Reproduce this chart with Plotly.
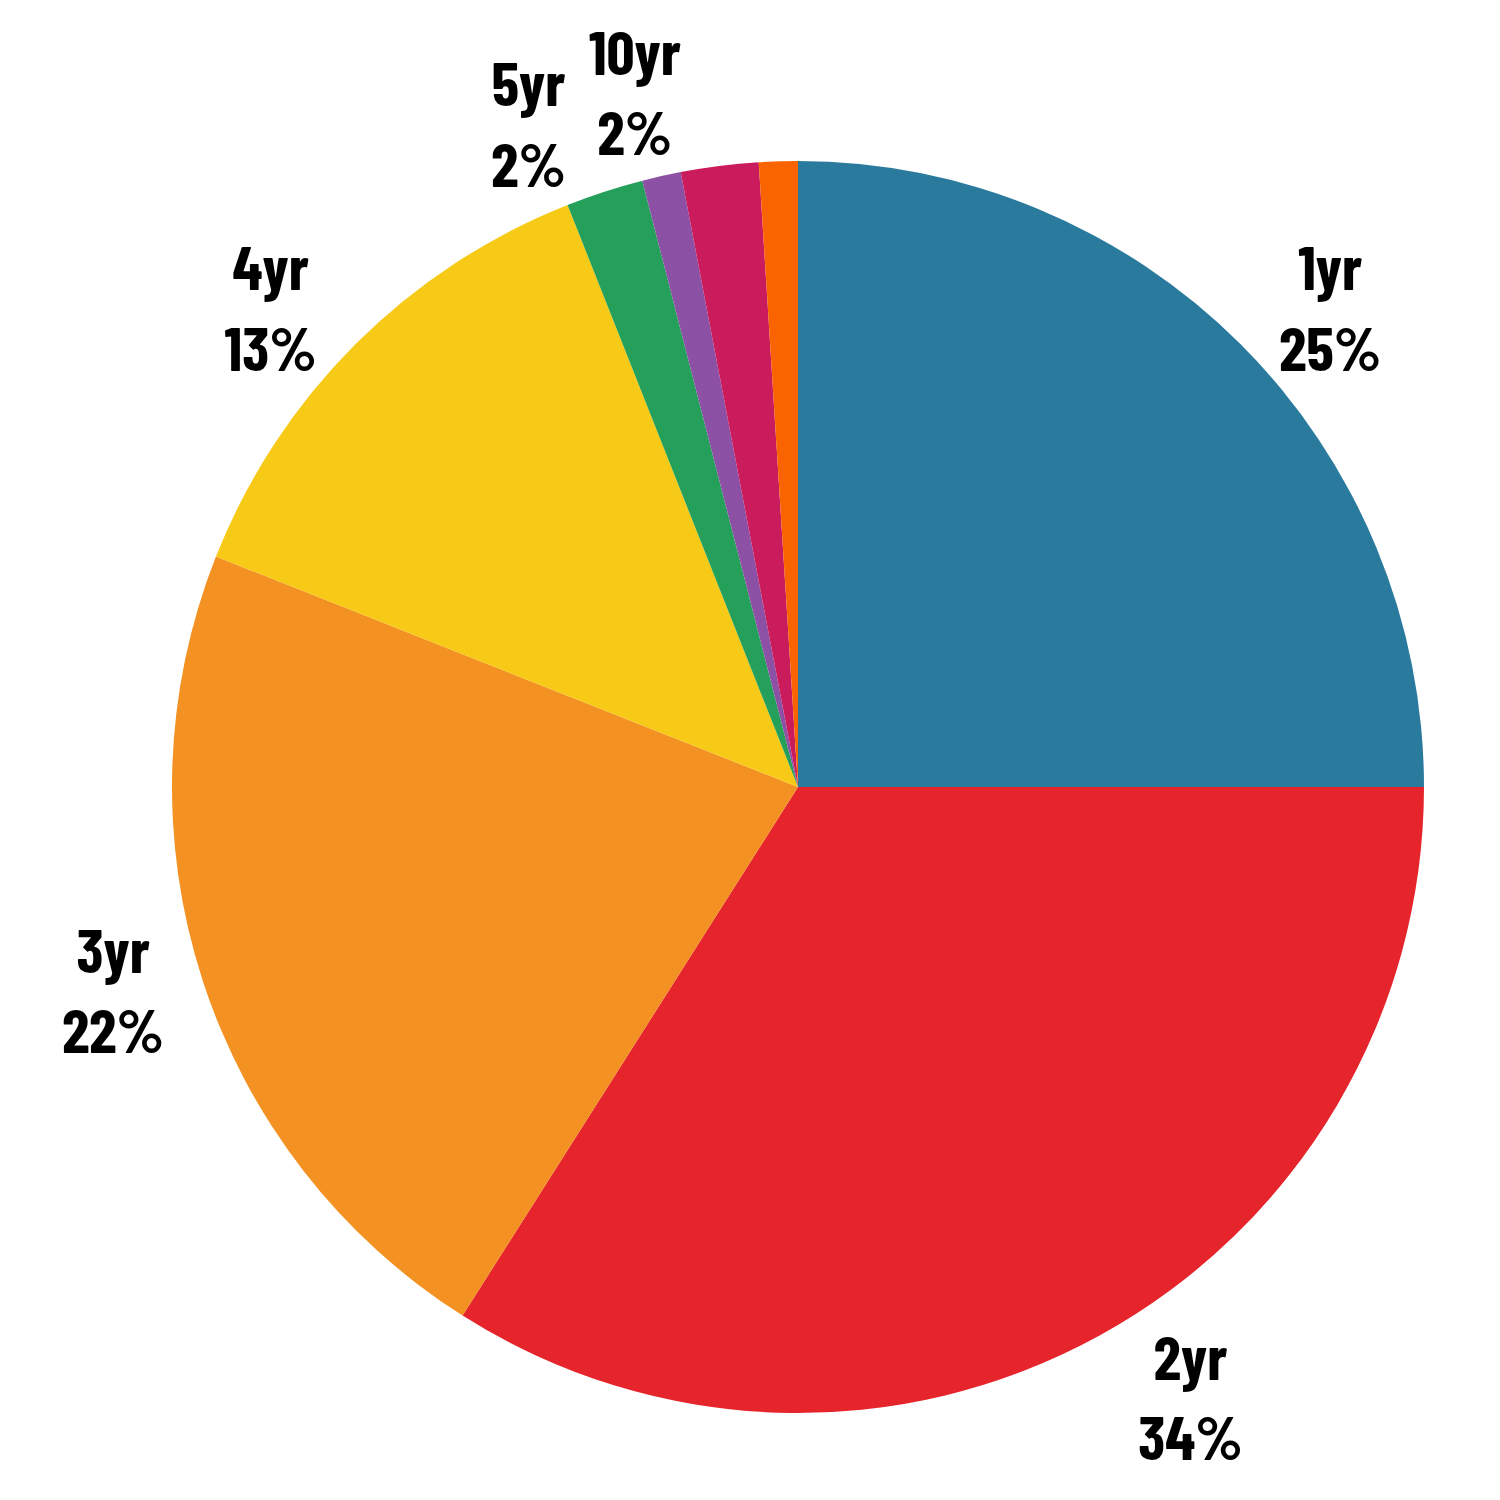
import plotly.graph_objects as go

# 期間別の比率（12時から時計回り）
terms = ["1yr", "2yr", "3yr", "4yr", "5yr", "7yr", "10yr", "30yr"]
shares = [25, 34, 22, 13, 2, 1, 2, 1]
# 表示するラベル（1% のスライスはラベルなし）
labeled = ["1yr", "2yr", "3yr", "4yr", "5yr"]
labeled_top = ["10yr"]
colors = ["#2a7a9e", "#e5252b", "#f39122", "#f7ca18", "#24a05a",
          "#8c51a5", "#ca1c5c", "#fa6400"]

FONT = "'Barlow Condensed', 'Liberation Sans', sans-serif"
DOMAIN = dict(x=[0.10933, 0.944], y=[0.06333, 0.898])


def label_texts(keep):
    return [f"{t}<br>{v}%" if t in keep else "" for t, v in zip(terms, shares)]


fig = go.Figure()

# 本体のパイ
fig.add_trace(go.Pie(
    labels=terms,
    values=shares,
    text=label_texts(labeled),
    textinfo="text",
    textposition="outside",
    sort=False,
    direction="clockwise",
    rotation=0,
    marker=dict(colors=colors, line=dict(width=0)),
    outsidetextfont=dict(family=FONT, size=62, color="black", weight="bold"),
    automargin=False,
    domain=DOMAIN,
    hoverinfo="label+percent",
    showlegend=False,
))

# 10yr のラベルだけ別トレース（ラベル同士の押し出しを避ける）
fig.add_trace(go.Pie(
    labels=terms,
    values=shares,
    text=label_texts(labeled_top),
    textinfo="text",
    textposition="outside",
    sort=False,
    direction="clockwise",
    rotation=0,
    marker=dict(colors=["rgba(0,0,0,0)"] * len(terms), line=dict(width=0)),
    outsidetextfont=dict(family=FONT, size=62, color="black", weight="bold"),
    automargin=False,
    domain=DOMAIN,
    hoverinfo="skip",
    showlegend=False,
))

fig.update_layout(
    width=1500,
    height=1500,
    margin=dict(l=0, r=0, t=0, b=0),
    showlegend=False,
    paper_bgcolor="white",
    plot_bgcolor="white",
    font=dict(family=FONT, size=62, color="black"),
)

fig.write_html("out.html")
